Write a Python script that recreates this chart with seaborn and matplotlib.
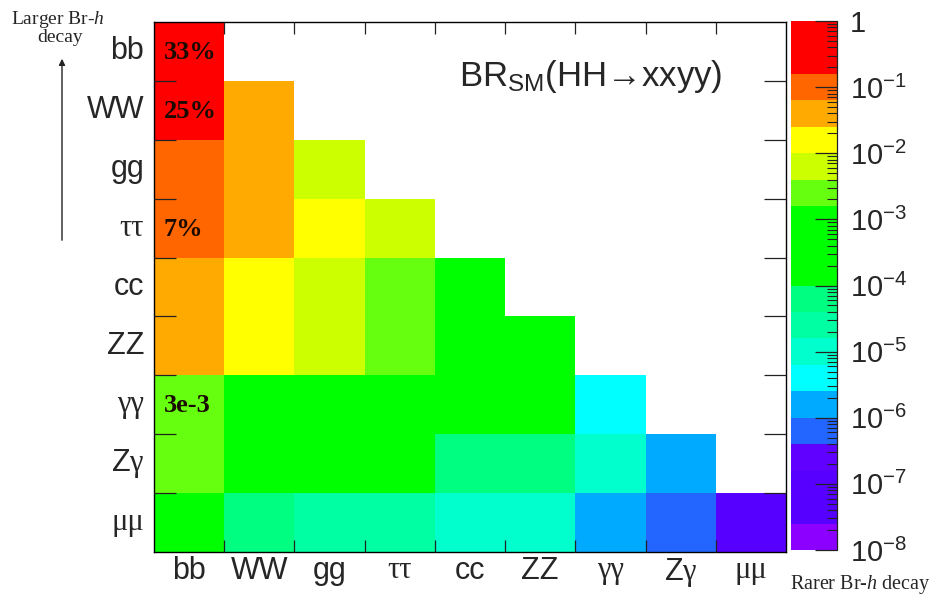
import numpy as np
import pandas as pd
import matplotlib
matplotlib.use("Agg")
import matplotlib.pyplot as plt
import seaborn as sns
from matplotlib.colors import LogNorm, ListedColormap
from matplotlib.ticker import FuncFormatter, FixedLocator, NullFormatter
from matplotlib.patches import FancyArrowPatch

# ---------------- data ----------------
decays = ["bb", "WW", "gg", "ττ", "cc", "ZZ", "γγ", "Zγ", "μμ"]
row_bb = [0.33]
row_WW = [0.25, 0.046]
row_gg = [0.099, 0.037, 0.0073]
row_tautau = [0.073, 0.027, 0.011, 0.0041]
row_cc = [0.034, 0.0125, 0.0050, 0.0037, 0.00085]
row_ZZ = [0.030, 0.0114, 0.0045, 0.0033, 0.0015, 0.00070]
row_gamgam = [0.0026, 0.00098, 0.00039, 0.00029, 0.00013, 0.00012, 5.2e-6]
row_Zgam = [0.0018, 0.00066, 0.00026, 0.000195, 9.0e-5, 8.1e-5, 7.0e-6, 2.4e-6]
row_mumu = [0.00025, 9.4e-5, 3.7e-5, 2.8e-5, 1.27e-5, 1.16e-5, 1.05e-6, 6.7e-7, 4.8e-8]
rows = [row_bb, row_WW, row_gg, row_tautau, row_cc, row_ZZ, row_gamgam, row_Zgam, row_mumu]

annot_rows = ["bb", "WW", "ττ", "γγ"]
annot_texts = ["33%", "25%", "7%", "3e-3"]

tick_labels = ["bb", "WW", "gg", "ττ", "cc", "ZZ", "γγ", r"Z$\mathrm{\gamma}$", "μμ"]
greek = {"ττ", "γγ", "μμ"}

# ROOT-like 20-level palette (bottom -> top)
palette = ["#8c00ff", "#5600ff", "#5800ff", "#6000ff", "#2266ff", "#00aaff",
           "#00ffff", "#00ffcc", "#00ffa2", "#00ff80", "#00ff00", "#00ff00",
           "#00ff00", "#66ff10", "#ccff00", "#ffff00", "#ffaa00", "#ff6600",
           "#ff0000", "#ff0000"]

# ---------------- build table ----------------
n = len(decays)
mat = np.full((n, n), np.nan)
for i, r in enumerate(rows):
    mat[i, :len(r)] = r
df = pd.DataFrame(mat, index=decays, columns=decays)

sns.set_style("white")
plt.rcParams["font.family"] = ["Liberation Sans", "DejaVu Sans"]
plt.rcParams["axes.axisbelow"] = False
plt.rcParams["mathtext.fontset"] = "custom"
plt.rcParams["mathtext.rm"] = "Liberation Serif"
plt.rcParams["mathtext.it"] = "Liberation Serif:italic"
plt.rcParams["mathtext.bf"] = "Liberation Serif:bold"

W, H = 932, 600
fig = plt.figure(figsize=(W / 100, H / 100), dpi=100)
ax = fig.add_axes([154 / W, 1 - 552 / H, (786 - 154) / W, (552 - 22) / H])
cax = fig.add_axes([791 / W, 1 - 550 / H, 46 / W, 529 / H])

cmap = ListedColormap(palette)
norm = LogNorm(vmin=1e-8, vmax=1)
sns.heatmap(df, ax=ax, cbar_ax=cax, cmap=cmap, norm=norm, linewidths=0)
ax.set_axisbelow(False)
cax.set_axisbelow(False)

# frame
for s in ax.spines.values():
    s.set_visible(True)
    s.set_color("black")
    s.set_linewidth(1.0)

# tick labels
ax.set_xticks(np.arange(n) + 0.5)
ax.set_yticks(np.arange(n) + 0.5)
ax.set_xticklabels(tick_labels, rotation=0)
ax.set_yticklabels(tick_labels, rotation=0)
for lab in ax.get_xticklabels() + ax.get_yticklabels():
    lab.set_fontsize(22)
    if lab.get_text() in greek:
        lab.set_fontfamily("Liberation Serif")
ax.tick_params(which="major", length=0)
ax.tick_params(axis="x", which="major", pad=3)
ax.tick_params(axis="y", which="major", pad=7)

# boundary ticks (ROOT style)
ax.xaxis.set_minor_locator(FixedLocator(np.arange(1, n)))
ax.yaxis.set_minor_locator(FixedLocator(np.arange(1, n)))
ax.tick_params(axis="x", which="minor", direction="in", top=True, bottom=True,
               length=8.5, width=0.9, color="#222222")
ax.tick_params(axis="y", which="minor", direction="in", left=True, right=True,
               length=16, width=0.9, color="#222222")

# annotations
for rname, txt in zip(annot_rows, annot_texts):
    i = decays.index(rname)
    ax.text(0.14, i + 0.52, txt, ha="left", va="center", fontsize=19,
            fontweight="bold", family="Liberation Serif", color="#1a0a00")

# title inside plot
ax.text(0.6915, 0.898, r"BR$_{\mathregular{SM}}$(HH→xxyy)", transform=ax.transAxes,
        ha="center", va="center", fontsize=25,
        family=["Liberation Sans", "DejaVu Sans"])

# colorbar styling
cbar = ax.collections[0].colorbar
cbar.outline.set_linewidth(0)
cbar.set_ticks([10.0 ** e for e in range(-8, 1)])


def fmt(v, pos):
    e = int(round(np.log10(v)))
    return "1" if e == 0 else r"$\mathregular{10^{%d}}$" % e


minor_vals = [m * 10.0 ** e for e in range(-8, 0) for m in range(2, 10)]
cax.yaxis.set_major_formatter(FuncFormatter(fmt))
cax.yaxis.set_minor_locator(FixedLocator(minor_vals))
cax.yaxis.set_minor_formatter(NullFormatter())
cax.yaxis.set_ticks_position("right")
cax.tick_params(which="major", direction="in", right=True, left=False, length=16,
                width=0.9, color="#222222", labelsize=21, pad=9)
cax.tick_params(which="minor", direction="in", right=True, left=False, length=7,
                width=0.8, color="#222222")
cax.plot([1, 1], [0, 1], transform=cax.transAxes, color="#222222", lw=0.9, clip_on=False)
cax.set_ylim(1e-8, 1)

# side texts and arrow
fig.text(58 / W, 1 - 19 / H, r"Larger Br-$\mathit{h}$", ha="center", va="center",
         fontsize=14, family="Liberation Serif")
fig.text(60 / W, 1 - 37 / H, "decay", ha="center", va="center",
         fontsize=14, family="Liberation Serif")
fig.add_artist(FancyArrowPatch((62 / W, 1 - 243 / H), (62 / W, 1 - 56 / H),
                               transform=fig.transFigure, arrowstyle="-|>",
                               mutation_scale=9, lw=1.0, color="#222222"))
fig.text(790 / W, 1 - 585 / H, r"Rarer Br-$\mathit{h}$ decay", ha="left", va="center",
         fontsize=14.5, family="Liberation Serif")

fig.savefig("out.png", dpi=100)
